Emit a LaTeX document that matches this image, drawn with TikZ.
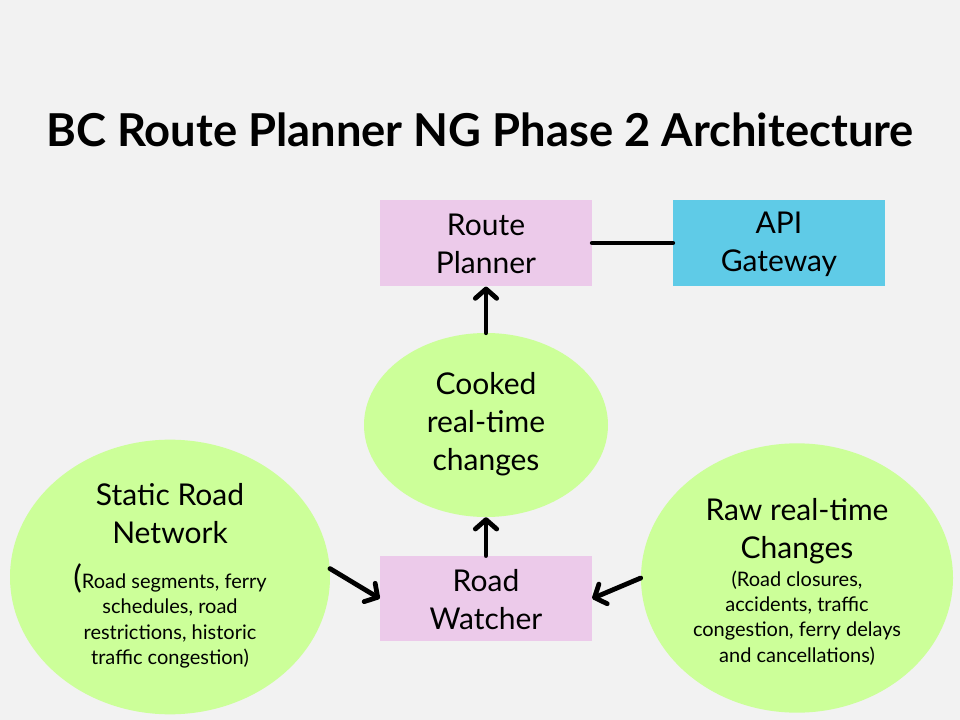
\documentclass[tikz,border=0pt]{standalone}
\usepackage{fontspec}
\setmainfont{Lato}
\usetikzlibrary{shapes.geometric,arrows.meta}
\definecolor{bg}{HTML}{F2F2F2}
\definecolor{pinkbox}{HTML}{ECCAEA}
\definecolor{cyanbox}{HTML}{5FCBE7}
\definecolor{greenell}{HTML}{CCFF99}
\tikzset{
  px/.style={x=0.75pt,y=-0.75pt},
  box/.style={rectangle,draw=none,minimum width=159pt,minimum height=65pt,inner sep=0pt},
  ell/.style={ellipse,draw=none,fill=greenell,inner sep=0pt},
  bigtxt/.style={align=center,font=\fontsize{22.5}{28.5}\selectfont,inner sep=0pt},
  smalltxt/.style={align=center,font=\fontsize{15}{19}\selectfont,inner sep=0pt},
  conn/.style={line width=3.6pt,line cap=round,line join=round},
  arr/.style={conn,-{Straight Barb[length=7pt,width=16pt,line cap=round,line join=round]}},
}
\begin{document}
\begin{tikzpicture}[px]
\fill[bg] (0,0) rectangle (960,720);
\useasboundingbox (0,0) rectangle (960,720);

\node[font=\fontsize{34}{40}\selectfont\bfseries,inner sep=0pt] (title) at (480,130) {BC Route Planner NG Phase 2 Architecture};

\node[box,fill=pinkbox] (planner) at (486,243) {};
\node[bigtxt] (plannert) at (486,244) {Route\\Planner};
\node[box,fill=cyanbox] (gateway) at (779,243) {};
\node[bigtxt] (gatewayt) at (779,244) {API\\Gateway};

\node[ell,minimum width=183pt,minimum height=138pt] (cooked) at (486,425) {};
\node[bigtxt] (cookedt) at (486,424) {Cooked\\real-time\\changes};

\node[box,fill=pinkbox,minimum height=64pt] (watcher) at (486,598.5) {};
\node[bigtxt] (watchert) at (486,600) {Road\\Watcher};

\node[ell,minimum width=240pt,minimum height=206pt] (static) at (170,577) {};
\node[bigtxt] (statict) at (170,514) {Static Road\\Network};
\node[smalltxt] (staticd) at (170,616) {{\fontsize{24}{24}\selectfont(}Road segments, ferry\\schedules, road\\restrictions, historic\\traffic congestion)};

\node[ell,minimum width=234pt,minimum height=202pt] (raw) at (797,578) {};
\node[bigtxt] (rawt) at (797,531) {Raw real-time\\Changes};
\node[smalltxt] (rawd) at (797,618) {(Road closures,\\accidents, traffic\\congestion, ferry delays\\and cancellations)};

\draw[conn] (planner.east) -- (gateway.west);
\draw[arr] (cooked.north) -- (planner.south);
\draw[arr] (watcher.north) -- (cooked.south);
\draw[arr] (static.3) -- (watcher.west);
\draw[arr] (raw.west) -- (watcher.east);
\end{tikzpicture}
\end{document}
